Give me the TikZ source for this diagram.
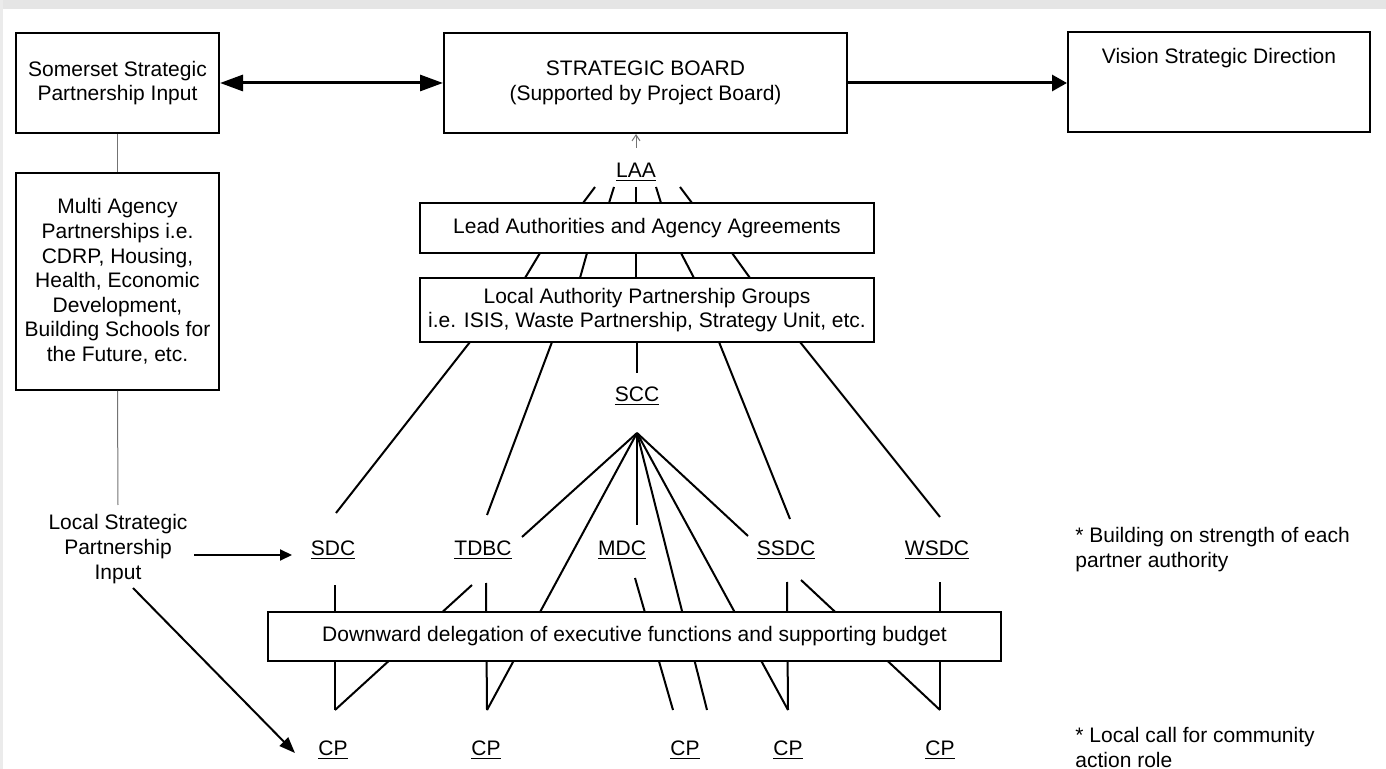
\documentclass[tikz,border=0pt]{standalone}
\usepackage{fontspec}
\setmainfont{Liberation Sans}
\usetikzlibrary{arrows.meta}
\begin{document}
\begin{tikzpicture}[x=0.5pt,y=-0.5pt,
  font=\fontsize{10.5pt}{12.3pt}\selectfont,
  box/.style={draw=black, line width=1pt, fill=white, inner sep=0pt, align=center},
  lbl/.style={inner sep=0pt, anchor=base},
  note/.style={inner sep=0pt, anchor=west, align=left},
  conn/.style={line width=1pt, black},
  faint/.style={line width=0.5pt, black!55},
  bigarrow/.style={line width=1.5pt, black},
  smallarrow/.style={line width=1pt, black, -{Triangle[length=6pt,width=5.5pt]}}
]
\useasboundingbox (0,0) rectangle (1386,769);
\fill[black!10] (0,0) rectangle (1386,9);
\fill[black!8] (0,0) rectangle (3,769);

% ---------- coordinates ----------
\coordinate (laatip) at (636,148);
\foreach \i/\xa/\xb in {1/595/583, 2/614/609, 3/636/636, 4/656/661, 5/680/692} {
  \coordinate (ua\i) at (\xa,187);
  \coordinate (ub\i) at (\xb,203);
}
\foreach \i/\xa/\xb in {1/540/525, 2/587/580, 3/636/636, 4/681/694, 5/732/750} {
  \coordinate (va\i) at (\xa,253);
  \coordinate (vb\i) at (\xb,278);
}
\coordinate (la1) at (470,342);  \coordinate (sdcT) at (336,513);
\coordinate (la2) at (552,342);  \coordinate (tdbcT) at (487,515);
\coordinate (la3) at (637,342);  \coordinate (sccT) at (637,373);
\coordinate (la4) at (719,342);  \coordinate (ssdcT) at (790,519);
\coordinate (la5) at (800,342);  \coordinate (wsdcT) at (940,517);
\coordinate (apex) at (637,433);
\coordinate (f1) at (522,537);
\coordinate (f3) at (637,525);
\coordinate (f6) at (748,536);
\coordinate (sdcB) at (335,585);
\coordinate (tdbcD) at (472,585);
\coordinate (tdbcB) at (486,583);
\coordinate (mdcB) at (635,578);
\coordinate (ssdcB) at (787,582);
\coordinate (ssdcD) at (801,580);
\coordinate (wsdcB) at (940,582);
\coordinate (cpT1) at (335,710);
\coordinate (cpT2) at (487,710);
\coordinate (cpT3a) at (673,710);
\coordinate (cpT3b) at (707,710);
\coordinate (cpT4) at (788,710);
\coordinate (cpT5) at (940,710);
\coordinate (lsptop) at (118,505);
\coordinate (lspR) at (194,555);
\coordinate (sdcL) at (292,555);
\coordinate (lspD) at (133,588);
\coordinate (cpL) at (295,753);

% ---------- connectors (behind boxes) ----------
\foreach \i in {1,...,5} { \draw[conn] (ua\i) -- (ub\i); \draw[conn] (va\i) -- (vb\i); }
\draw[conn] (la1) -- (sdcT);
\draw[conn] (la2) -- (tdbcT);
\draw[conn] (la3) -- (sccT);
\draw[conn] (la4) -- (ssdcT);
\draw[conn] (la5) -- (wsdcT);
\draw[conn] (apex) -- (f1);
\draw[conn] (apex) -- (cpT2);
\draw[conn] (apex) -- (f3);
\draw[conn] (apex) -- (cpT3b);
\draw[conn] (apex) -- (cpT4);
\draw[conn] (apex) -- (f6);
\draw[conn] (sdcB) -- (cpT1);
\draw[conn] (tdbcD) -- (cpT1);
\draw[conn] (tdbcB) -- (cpT2);
\draw[conn] (mdcB) -- (cpT3a);
\draw[conn] (ssdcB) -- (cpT4);
\draw[conn] (ssdcD) -- (cpT5);
\draw[conn] (wsdcB) -- (cpT5);

% ---------- boxes ----------
\node[box, minimum width=101.5pt, minimum height=50pt] (som) at (117.5,83) {Somerset Strategic\\Partnership Input};
\node[box, minimum width=201.5pt, minimum height=50pt] (board) at (645.5,83) {STRATEGIC BOARD\\(Supported by Project Board)};
\node[box, minimum width=151pt, minimum height=50pt] (vision) at (1219,82) {};
\node[lbl] (visiontxt) at (1219,63.5) {Vision Strategic Direction};
\node[box, minimum width=101.5pt, minimum height=108.5pt] (multi) at (117.5,281.5)
  {Multi Agency\\Partnerships i.e.\\CDRP, Housing,\\Health, Economic\\Development,\\Building Schools for\\the Future, etc.};
\node[box, minimum width=227pt, minimum height=25pt] (lead) at (647,228) {Lead Authorities and Agency Agreements};
\node[box, minimum width=227pt, minimum height=32pt] (la) at (647,310)
  {Local Authority Partnership Groups\\i.e. ISIS, Waste Partnership, Strategy Unit, etc.};
\node[box, minimum width=366.5pt, minimum height=24.5pt] (down) at (634.5,636.5)
  {Downward delegation of executive functions and supporting budget};

% ---------- labels ----------
\node[lbl] (laa) at (636,177.5) {\underline{LAA}};
\node[lbl] (scc) at (637,401.5) {\underline{SCC}};
\node[lbl] (sdc) at (333,555.5) {\underline{SDC}};
\node[lbl] (tdbc) at (483,555.5) {\underline{TDBC}};
\node[lbl] (mdc) at (622,555.5) {\underline{MDC}};
\node[lbl] (ssdc) at (786,555.5) {\underline{SSDC}};
\node[lbl] (wsdc) at (937,555.5) {\underline{WSDC}};
\node[lbl] (cp1) at (333,755.5) {\underline{CP}};
\node[lbl] (cp2) at (486,755.5) {\underline{CP}};
\node[lbl] (cp3) at (685,755.5) {\underline{CP}};
\node[lbl] (cp4) at (788,755.5) {\underline{CP}};
\node[lbl] (cp5) at (940,755.5) {\underline{CP}};
\node[inner sep=0pt, align=center] (lsp) at (118,549) {Local Strategic\\Partnership\\Input};
\node[note] (note1) at (1075,549.4) {* Building on strength of each\\partner authority};
\node[note] (note2) at (1075,747.4) {* Local call for community\\action role};

% ---------- arrows ----------
\draw[bigarrow, {Triangle[length=11.5pt,width=8pt]}-{Triangle[length=11.5pt,width=8pt]}] (som.east) -- (board.west);
\draw[bigarrow, -{Triangle[length=7.5pt,width=8pt]}] (board.east) -- (board.east -| vision.west);
\draw[faint] (som.south) -- (multi.north);
\draw[faint] (multi.south) -- (lsptop);
\draw[faint, -{Straight Barb[length=3pt,width=4pt]}] (laatip) -- (laatip |- board.south);
\draw[smallarrow] (lspR) -- (sdcL);
\draw[smallarrow, -{Triangle[length=8pt,width=6pt]}] (lspD) -- (cpL);
\end{tikzpicture}
\end{document}
